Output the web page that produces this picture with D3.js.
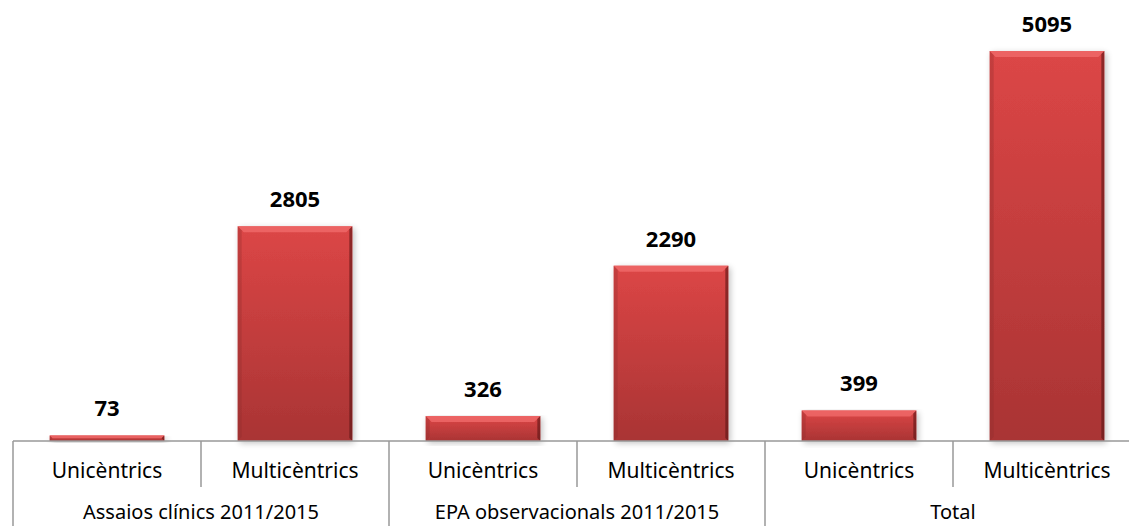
<!DOCTYPE html>
<html>
<head>
<meta charset="utf-8">
<script src="https://cdn.jsdelivr.net/npm/d3@7"></script>
<style>
  html, body { margin: 0; padding: 0; background: #fff; overflow: hidden; }
  svg { display: block; font-family: "Noto Sans", "Open Sans", sans-serif; }
</style>
</head>
<body>
<div id="chart"></div>
<script>
var groups = ["Assaios clínics 2011/2015", "EPA observacionals  2011/2015", "Total"];
var subCats = ["Unicèntrics", "Multicèntrics"];
var values = [73, 2805, 326, 2290, 399, 5095];

var width = 1129, height = 526;
var left = 13, baseY = 441, catW = 188;

var svg = d3.select("#chart").append("svg")
            .attr("width", width)
            .attr("height", height);

var defs = svg.append("defs");

var grad = defs.append("linearGradient")
               .attr("id", "barGrad")
               .attr("x1", 0).attr("y1", 0)
               .attr("x2", 0).attr("y2", 1);
grad.append("stop").attr("offset", "0%").attr("stop-color", "#dc4646");
grad.append("stop").attr("offset", "100%").attr("stop-color", "#a93434");

var shadow = defs.append("filter")
                 .attr("id", "shadow")
                 .attr("x", "-10%").attr("y", "-10%")
                 .attr("width", "130%").attr("height", "130%");
shadow.append("feGaussianBlur").attr("in", "SourceAlpha").attr("stdDeviation", 3);
shadow.append("feOffset").attr("dx", 2).attr("dy", 2).attr("result", "b");
shadow.append("feComponentTransfer").append("feFuncA").attr("type", "linear").attr("slope", 0.25);
var merge = shadow.append("feMerge");
merge.append("feMergeNode");
merge.append("feMergeNode").attr("in", "SourceGraphic");

var cats = d3.range(values.length);

var x = d3.scaleBand()
          .domain(cats)
          .range([left, left + catW * cats.length])
          .paddingInner(0.39)
          .paddingOuter(0.195);

var y = d3.scaleLinear()
          .domain([0, 5095])
          .range([baseY, 51]);

// bars
var bar = svg.selectAll("g.bar")
             .data(values)
             .enter().append("g")
             .attr("class", "bar");

bar.append("rect")
   .attr("x", (d, i) => x(i))
   .attr("y", d => y(d))
   .attr("width", x.bandwidth())
   .attr("height", d => baseY - y(d))
   .style("fill", "url(#barGrad)")
   .attr("filter", "url(#shadow)");

// top bevel highlight
bar.append("path")
   .attr("d", (d, i) => {
     var x0 = x(i), x1 = x(i) + x.bandwidth(), t = y(d);
     var b = Math.min(6, (baseY - t) / 2);
     return "M" + x0 + "," + t + "L" + x1 + "," + t + "L" + (x1 - b) + "," + (t + b) + "L" + (x0 + b) + "," + (t + b) + "Z";
   })
   .style("fill", "#f06a6a")
   .style("opacity", 0.8);

// right dark edge
bar.append("path")
   .attr("d", (d, i) => {
     var x1 = x(i) + x.bandwidth(), t = y(d);
     var b = Math.min(3, (baseY - t) / 2);
     return "M" + x1 + "," + t + "L" + x1 + "," + baseY + "L" + (x1 - b) + "," + (baseY - b) + "L" + (x1 - b) + "," + (t + b) + "Z";
   })
   .style("fill", "#5a1414")
   .style("opacity", 0.6);

// left soft edge
bar.append("path")
   .attr("d", (d, i) => {
     var x0 = x(i), t = y(d);
     var b = Math.min(4, (baseY - t) / 2);
     return "M" + x0 + "," + t + "L" + (x0 + b) + "," + (t + b) + "L" + (x0 + b) + "," + (baseY - b) + "L" + x0 + "," + baseY + "Z";
   })
   .style("fill", "#8a2a2a")
   .style("opacity", 0.3);

bar.append("text")
   .attr("x", (d, i) => x(i) + x.bandwidth() / 2)
   .attr("y", d => y(d) - 19)
   .attr("text-anchor", "middle")
   .style("font-size", "22px")
   .style("font-weight", "bold")
   .style("fill", "#000")
   .text(d => d);

// category axis
var axis = svg.append("g").attr("class", "axis");

axis.append("line")
    .attr("x1", left).attr("x2", width)
    .attr("y1", baseY).attr("y2", baseY)
    .style("stroke", "#999").style("stroke-width", 1.5);

axis.selectAll("line.tick")
    .data(d3.range(cats.length + 1))
    .enter().append("line")
    .attr("class", "tick")
    .attr("x1", i => left + i * catW)
    .attr("x2", i => left + i * catW)
    .attr("y1", baseY)
    .attr("y2", i => i % 2 === 0 ? height : 487)
    .style("stroke", "#999").style("stroke-width", 1.5);

axis.selectAll("text.sub")
    .data(cats)
    .enter().append("text")
    .attr("class", "sub")
    .attr("x", i => left + i * catW + catW / 2)
    .attr("y", 478)
    .attr("text-anchor", "middle")
    .style("font-size", "21px")
    .style("fill", "#000")
    .text(i => subCats[i % 2]);

axis.selectAll("text.group")
    .data(groups)
    .enter().append("text")
    .attr("class", "group")
    .attr("x", (d, i) => left + i * 2 * catW + catW)
    .attr("y", 519)
    .attr("text-anchor", "middle")
    .style("font-size", "20px")
    .style("fill", "#000")
    .text(d => d);
</script>
</body>
</html>
